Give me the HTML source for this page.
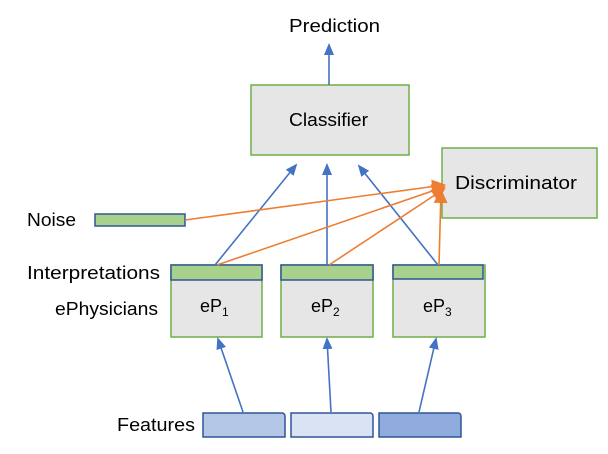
<!DOCTYPE html>
<html><head><style>html,body{margin:0;padding:0;background:#fff;width:608px;height:454px;overflow:hidden}</style></head>
<body>
<svg width="608" height="454" xmlns="http://www.w3.org/2000/svg" font-family="Liberation Sans, sans-serif" font-size="18" fill="#000">
<defs>
<marker id="b" markerWidth="12" markerHeight="12" refX="10" refY="6" orient="auto" markerUnits="userSpaceOnUse"><path d="M0,1 L12,6 L0,11 z" fill="#4472C4"/></marker>
<marker id="o" markerWidth="14" markerHeight="14" refX="12" refY="7" orient="auto" markerUnits="userSpaceOnUse"><path d="M0,0 L14,7 L0,14 z" fill="#ED7D31"/></marker>
</defs>
<rect x="251" y="85" width="158" height="70" fill="#E7E6E6" stroke="#70AD47" stroke-width="1.5"/>
<text x="289" y="126" textLength="79" lengthAdjust="spacingAndGlyphs">Classifier</text>
<rect x="442" y="148" width="155" height="70" fill="#E7E6E6" stroke="#70AD47" stroke-width="1.5"/>
<text x="455" y="189" textLength="122" lengthAdjust="spacingAndGlyphs">Discriminator</text>
<text x="289" y="32" textLength="91" lengthAdjust="spacingAndGlyphs">Prediction</text>
<text x="27" y="226" textLength="49" lengthAdjust="spacingAndGlyphs">Noise</text>
<text x="27" y="279" textLength="133" lengthAdjust="spacingAndGlyphs">Interpretations</text>
<text x="55" y="315" textLength="103" lengthAdjust="spacingAndGlyphs">ePhysicians</text>
<text x="117" y="431" textLength="78" lengthAdjust="spacingAndGlyphs">Features</text>
<rect x="95" y="214" width="90" height="12" fill="#A9D18E" stroke="#2F5597" stroke-width="1.5"/>
<g stroke="#70AD47" stroke-width="1.5" fill="#E7E6E6">
<rect x="171" y="265" width="91" height="72"/>
<rect x="281" y="265" width="92" height="72"/>
<rect x="393" y="265" width="92" height="72"/>
</g>
<g stroke="#2F5597" stroke-width="1.5" fill="#A9D18E">
<rect x="171" y="265" width="91" height="15"/>
<rect x="281" y="265" width="92" height="15"/>
<rect x="393" y="265" width="90" height="14"/>
</g>
<text x="200" y="312">eP<tspan font-size="12" dy="4">1</tspan></text>
<text x="311" y="312">eP<tspan font-size="12" dy="4">2</tspan></text>
<text x="423" y="312">eP<tspan font-size="12" dy="4">3</tspan></text>
<g stroke="#2F5597" stroke-width="1.5">
<path d="M203,413 h79 a3,3 0 0 1 3,3 v21 h-82 z" fill="#B4C7E7"/>
<path d="M291,413 h79 a3,3 0 0 1 3,3 v21 h-82 z" fill="#DAE3F3"/>
<path d="M379,413 h79 a3,3 0 0 1 3,3 v21 h-82 z" fill="#8FAADC"/>
</g>
<g stroke="#4472C4" stroke-width="1.6" fill="none" marker-end="url(#b)">
<line x1="329" y1="85" x2="329" y2="45"/>
<line x1="215" y1="265" x2="296" y2="165"/>
<line x1="327" y1="265" x2="327" y2="165"/>
<line x1="438" y1="265" x2="359" y2="166"/>
<line x1="243" y1="412" x2="218" y2="339"/>
<line x1="331" y1="412" x2="327" y2="339"/>
<line x1="419" y1="412" x2="436" y2="339"/>
</g>
<g stroke="#ED7D31" stroke-width="1.6" fill="none" marker-end="url(#o)">
<line x1="185" y1="220" x2="444" y2="185"/>
<line x1="217" y1="265" x2="444" y2="187"/>
<line x1="329" y1="265" x2="444" y2="189"/>
<line x1="439" y1="265" x2="441" y2="191"/>
</g>
</svg>
</body></html>
